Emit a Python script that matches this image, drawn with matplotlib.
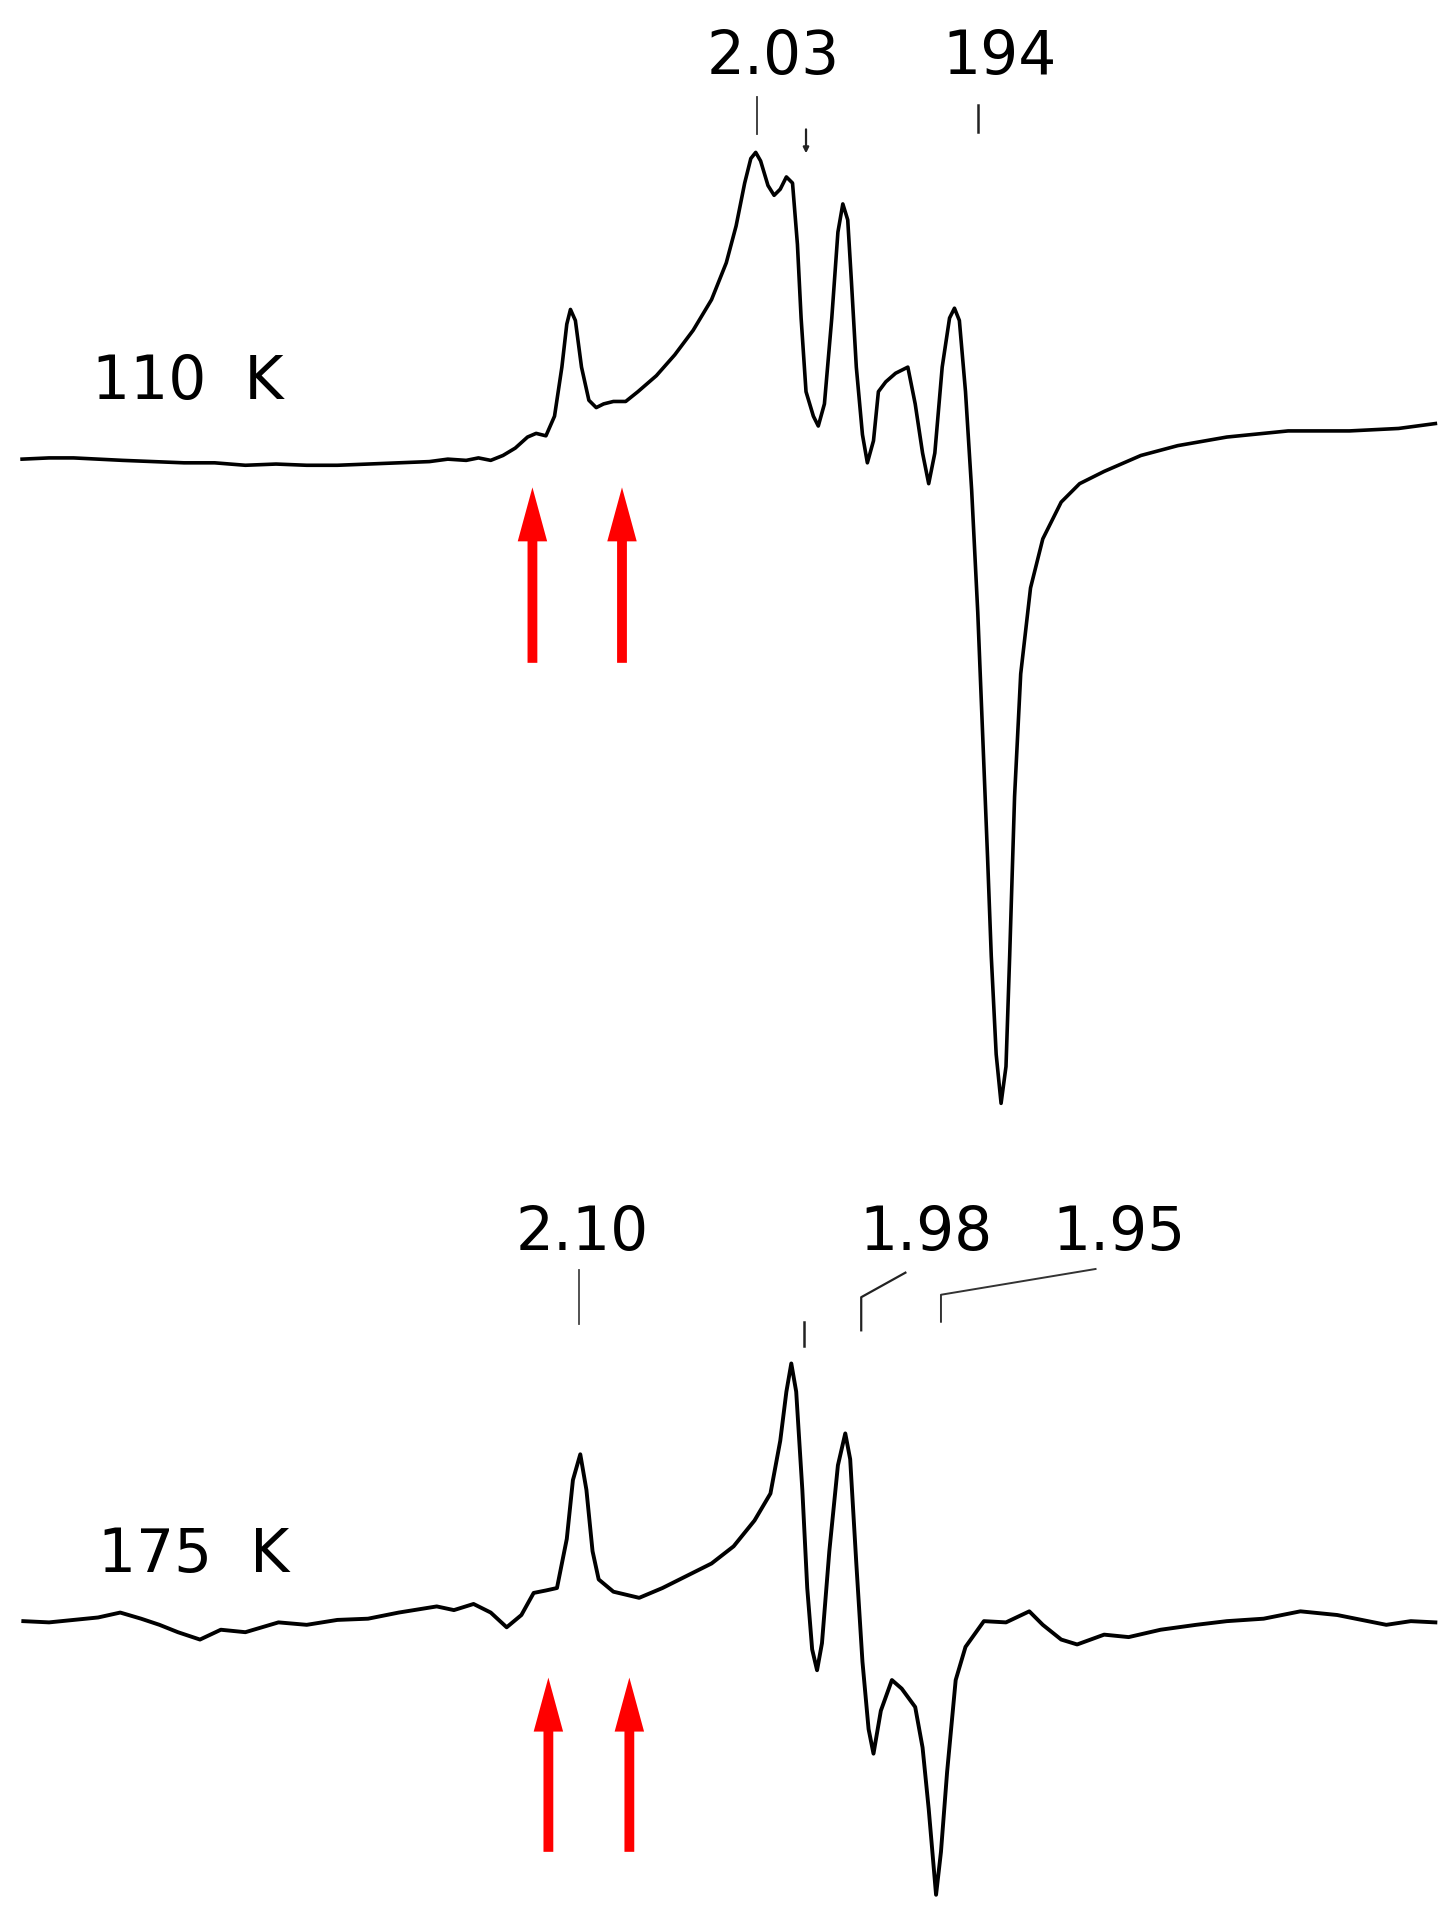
import matplotlib
matplotlib.use("Agg")
import matplotlib.pyplot as plt
import numpy as np

# traced EPR spectra (field position in arbitrary units, derivative amplitude)
field_110 = [18, 40, 60, 80, 100, 125, 150, 175, 200, 225, 250, 275, 300, 325, 350, 365, 380, 390,
             400, 410, 420, 430, 437, 445, 452, 458, 462, 465, 469, 474, 480, 486, 492, 500, 510,
             520, 535, 550, 565, 580, 592, 600, 607, 612, 616, 620, 626, 631, 636, 641, 646, 650,
             653, 657, 663, 667, 672, 678, 683, 687, 691, 694, 698, 703, 707, 712, 716, 722, 730,
             740, 746, 752, 757, 762, 768, 774, 778, 782, 787, 792, 797, 801, 805, 808, 812, 816,
             820, 823, 827, 832, 840, 850, 865, 880, 900, 930, 960, 1000, 1050, 1100, 1140, 1170]
amp_110 = [0, 1, 1, 0, -1, -2, -3, -3, -5, -4, -5, -5, -4, -3, -2, 0, -1, 1,
           -1, 3, 9, 18, 21, 19, 35, 75, 110, 122, 113, 75, 48, 42, 45, 47, 47,
           55, 68, 85, 105, 130, 160, 190, 225, 245, 250, 243, 223, 215, 220, 230, 225, 175,
           115, 55, 35, 27, 45, 115, 185, 208, 195, 145, 75, 20, -3, 15, 55, 63, 70,
           75, 45, 5, -20, 5, 75, 115, 123, 113, 55, -25, -125, -225, -325, -405, -485, -525,
           -495, -405, -275, -175, -105, -65, -35, -20, -10, 3, 11, 18, 23, 23, 25, 29]

field_175 = [19, 40, 60, 80, 98, 115, 130, 145, 163, 180, 200, 227, 250, 275, 300, 325, 356, 370,
             386, 400, 413, 425, 435, 445, 454, 462, 467, 473, 478, 483, 488, 500, 521, 540,
             560, 580, 598, 615, 628, 636, 641, 645, 649, 654, 658, 662, 666, 670, 676, 683,
             689, 693, 698, 703, 708, 712, 718, 727, 735, 746, 752, 757, 763, 767, 772, 779,
             787, 802, 820, 839, 850, 865, 878, 900, 920, 946, 975, 1000, 1030, 1060, 1090,
             1110, 1130, 1150, 1170]
amp_175 = [3, 2, 4, 6, 10, 5, 0, -6, -12, -4, -6, 2, 0, 4, 5, 10, 15, 12,
           17, 10, -2, 8, 26, 28, 30, 70, 118, 139, 110, 60, 37, 27, 22, 30,
           40, 50, 64, 85, 107, 150, 190, 213, 190, 110, 30, -20, -37, -15, 60, 130,
           156, 135, 50, -30, -85, -105, -70, -45, -52, -67, -100, -150, -220, -185, -120, -45,
           -18, 3, 2, 11, 0, -12, -16, -8, -10, -4, 0, 3, 5, 11, 8,
           4, 0, 3, 2]

baseline_110 = 375
baseline_175 = 1325
temp_labels = ["110  K", "175  K"]
g_labels_110 = ["2.03", "194"]
g_labels_175 = ["2.10", "1.98", "1.95"]
arrows_110 = [434, 507]
arrows_175 = [447, 513]

fig = plt.figure(figsize=(14.55, 19.24), dpi=100)
ax = fig.add_axes([0, 0, 1, 1])
ax.set_xlim(0, 1186)
ax.set_ylim(1568, 0)
ax.axis("off")

ax.plot(field_110, baseline_110 - np.array(amp_110), color="black", lw=2.6, solid_joinstyle="round")
ax.plot(field_175, baseline_175 - np.array(amp_175), color="black", lw=2.8, solid_joinstyle="round")

fs = 43
ax.text(75, 312, temp_labels[0], fontsize=fs, ha="left", va="center")
ax.text(80, 1268, temp_labels[1], fontsize=fs, ha="left", va="center")

ax.text(630, 47, g_labels_110[0], fontsize=fs, ha="center", va="center")
ax.text(815, 47, g_labels_110[1], fontsize=fs, ha="center", va="center")
ax.plot([617, 617], [80, 110], color="#333333", lw=1.3)
ax.plot([797, 797], [86, 108], color="#222222", lw=1.8)
ax.annotate("", xy=(657, 128), xytext=(657, 104),
            arrowprops=dict(arrowstyle="-|>", color="#222222", lw=1.6, mutation_scale=8))

ax.text(475, 1005, g_labels_175[0], fontsize=fs, ha="center", va="center")
ax.text(755, 1005, g_labels_175[1], fontsize=fs, ha="center", va="center")
ax.text(912, 1005, g_labels_175[2], fontsize=fs, ha="center", va="center")
ax.plot([472, 472], [1036, 1080], color="#444444", lw=1.3)
ax.plot([655, 655], [1078, 1098], color="#222222", lw=1.8)
ax.plot([738, 702, 702], [1038, 1058, 1085], color="#222222", lw=1.6)
ax.plot([893, 767, 767], [1035, 1056, 1078], color="#333333", lw=1.4)

for xa in arrows_110:
    ax.arrow(xa, 541, 0, -143, width=8, head_width=24, head_length=44,
             length_includes_head=True, color="#ff0000", lw=0)
for xa in arrows_175:
    ax.arrow(xa, 1510, 0, -142, width=8, head_width=24, head_length=44,
             length_includes_head=True, color="#ff0000", lw=0)

fig.savefig("out.png", dpi=100, facecolor="white")
